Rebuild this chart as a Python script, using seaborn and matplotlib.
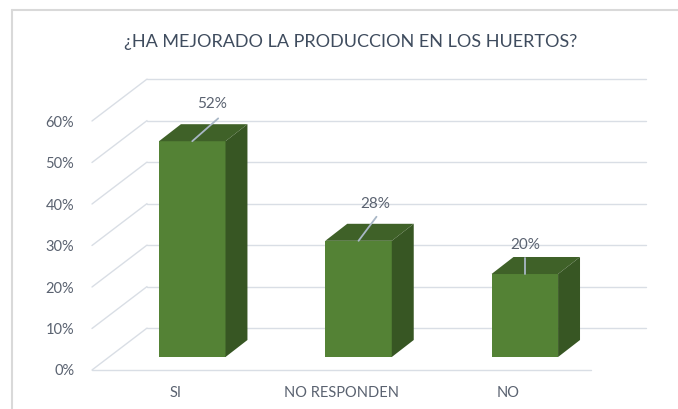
import matplotlib
matplotlib.use("Agg")
import matplotlib.pyplot as plt
import seaborn as sns
import pandas as pd
from matplotlib.patches import Polygon
from matplotlib.lines import Line2D

categories = ["SI", "NO RESPONDEN", "NO"]
values = [52, 28, 20]
value_labels = ["52%", "28%", "20%"]
ytick_values = [0, 10, 20, 30, 40, 50, 60]
ytick_labels = ["0%", "10%", "20%", "30%", "40%", "50%", "60%"]
title = "¿HA MEJORADO LA PRODUCCION EN LOS HUERTOS?"

sns.set_theme(style="white")
plt.rcParams["font.family"] = ["Lato", "DejaVu Sans"]

W, H = 678, 409
fig = plt.figure(figsize=(W / 100, H / 100), dpi=100)

# axes pixel box
L, R, T, B = 84, 660, 60, 380
ax = fig.add_axes([L / W, (H - B) / H, (R - L) / W, (B - T) / H])

df = pd.DataFrame({"cat": categories, "val": values})
BAR_W = 0.40
sns.barplot(data=df, x="cat", y="val", color="#548235", width=BAR_W,
            saturation=1, ax=ax, zorder=3, linewidth=0)

# geometry (data units)
front_shift = -0.103          # front-floor category centre relative to bar centre
DX, DY = 0.331, 10.1          # full depth offset
z0 = 3.13                     # bar front face bottom
bdx, bdy = 0.132, 4.1         # bar depth offset
x_front0 = -0.5 + front_shift
x_front1 = 2.5 + front_shift

ax.set_xlim(-0.651, 2.813)
ax.set_ylim(-2.41, 74.7)

grid_c = "#D9DEE5"
for v in ytick_values:
    ax.add_line(Line2D([x_front0, x_front0 + DX], [v, v + DY], color=grid_c, lw=1.0, zorder=1))
    ax.add_line(Line2D([x_front0 + DX, x_front1 + DX], [v + DY, v + DY], color=grid_c, lw=1.0, zorder=1))
ax.add_line(Line2D([x_front0, x_front1], [0, 0], color=grid_c, lw=1.0, zorder=1))

top_c = "#3F6128"
side_c = "#375623"
for p in ax.patches[:len(values)]:
    h = p.get_height()
    p.set_y(z0)
    x0 = p.get_x()
    x1 = x0 + p.get_width()
    y0 = z0
    y1 = z0 + h
    top = Polygon([[x0, y1], [x1, y1], [x1 + bdx, y1 + bdy], [x0 + bdx, y1 + bdy]],
                  closed=True, facecolor=top_c, edgecolor="none", zorder=3)
    side = Polygon([[x1, y0], [x1 + bdx, y0 + bdy], [x1 + bdx, y1 + bdy], [x1, y1]],
                   closed=True, facecolor=side_c, edgecolor="none", zorder=3)
    ax.add_patch(top)
    ax.add_patch(side)

# data labels with leader lines: (line dx, line dy, label dx, label dy)
lab_offsets = [(0.156, 5.5, 0.12, 8.9), (0.108, 5.8, 0.10, 8.9), (0.0, 3.9, 0.0, 7.0)]
bars = list(ax.patches[:len(values)])
for p, lab, (lx, ly, tx, ty_) in zip(bars, value_labels, lab_offsets):
    cx = p.get_x() + p.get_width() / 2
    ty = z0 + p.get_height()
    ax.add_line(Line2D([cx, cx + lx], [ty, ty + ly], color="#A9B7C6", lw=1.3, zorder=4))
    ax.text(cx + tx, ty + ty_, lab, ha="center", va="center", fontsize=11,
            color="#5A6270", zorder=5)

ax.set_yticks(ytick_values, labels=ytick_labels)
ax.set_xticks([i + front_shift for i in range(len(categories))], labels=categories)
ax.tick_params(axis="both", length=0, labelsize=10.5, labelcolor="#5A6270")
ax.tick_params(axis="y", pad=7)
ax.tick_params(axis="x", pad=4)
ax.set_xlabel("")
ax.set_ylabel("")
for s in ax.spines.values():
    s.set_visible(False)
ax.grid(False)
ax.patch.set_alpha(0)

fig.text(351 / W, 1 - 42 / H, title, ha="center", va="center", fontsize=13,
         color="#3F4C5E")

# chart frame
fig.add_artist(Line2D([12 / W, 1.0], [1 - 10 / H, 1 - 10 / H], transform=fig.transFigure,
                      color="#D9D9D9", lw=1.5))
fig.add_artist(Line2D([12 / W, 12 / W], [0, 1 - 10 / H], transform=fig.transFigure,
                      color="#D9D9D9", lw=1.5))

fig.savefig("out.png", dpi=100)
